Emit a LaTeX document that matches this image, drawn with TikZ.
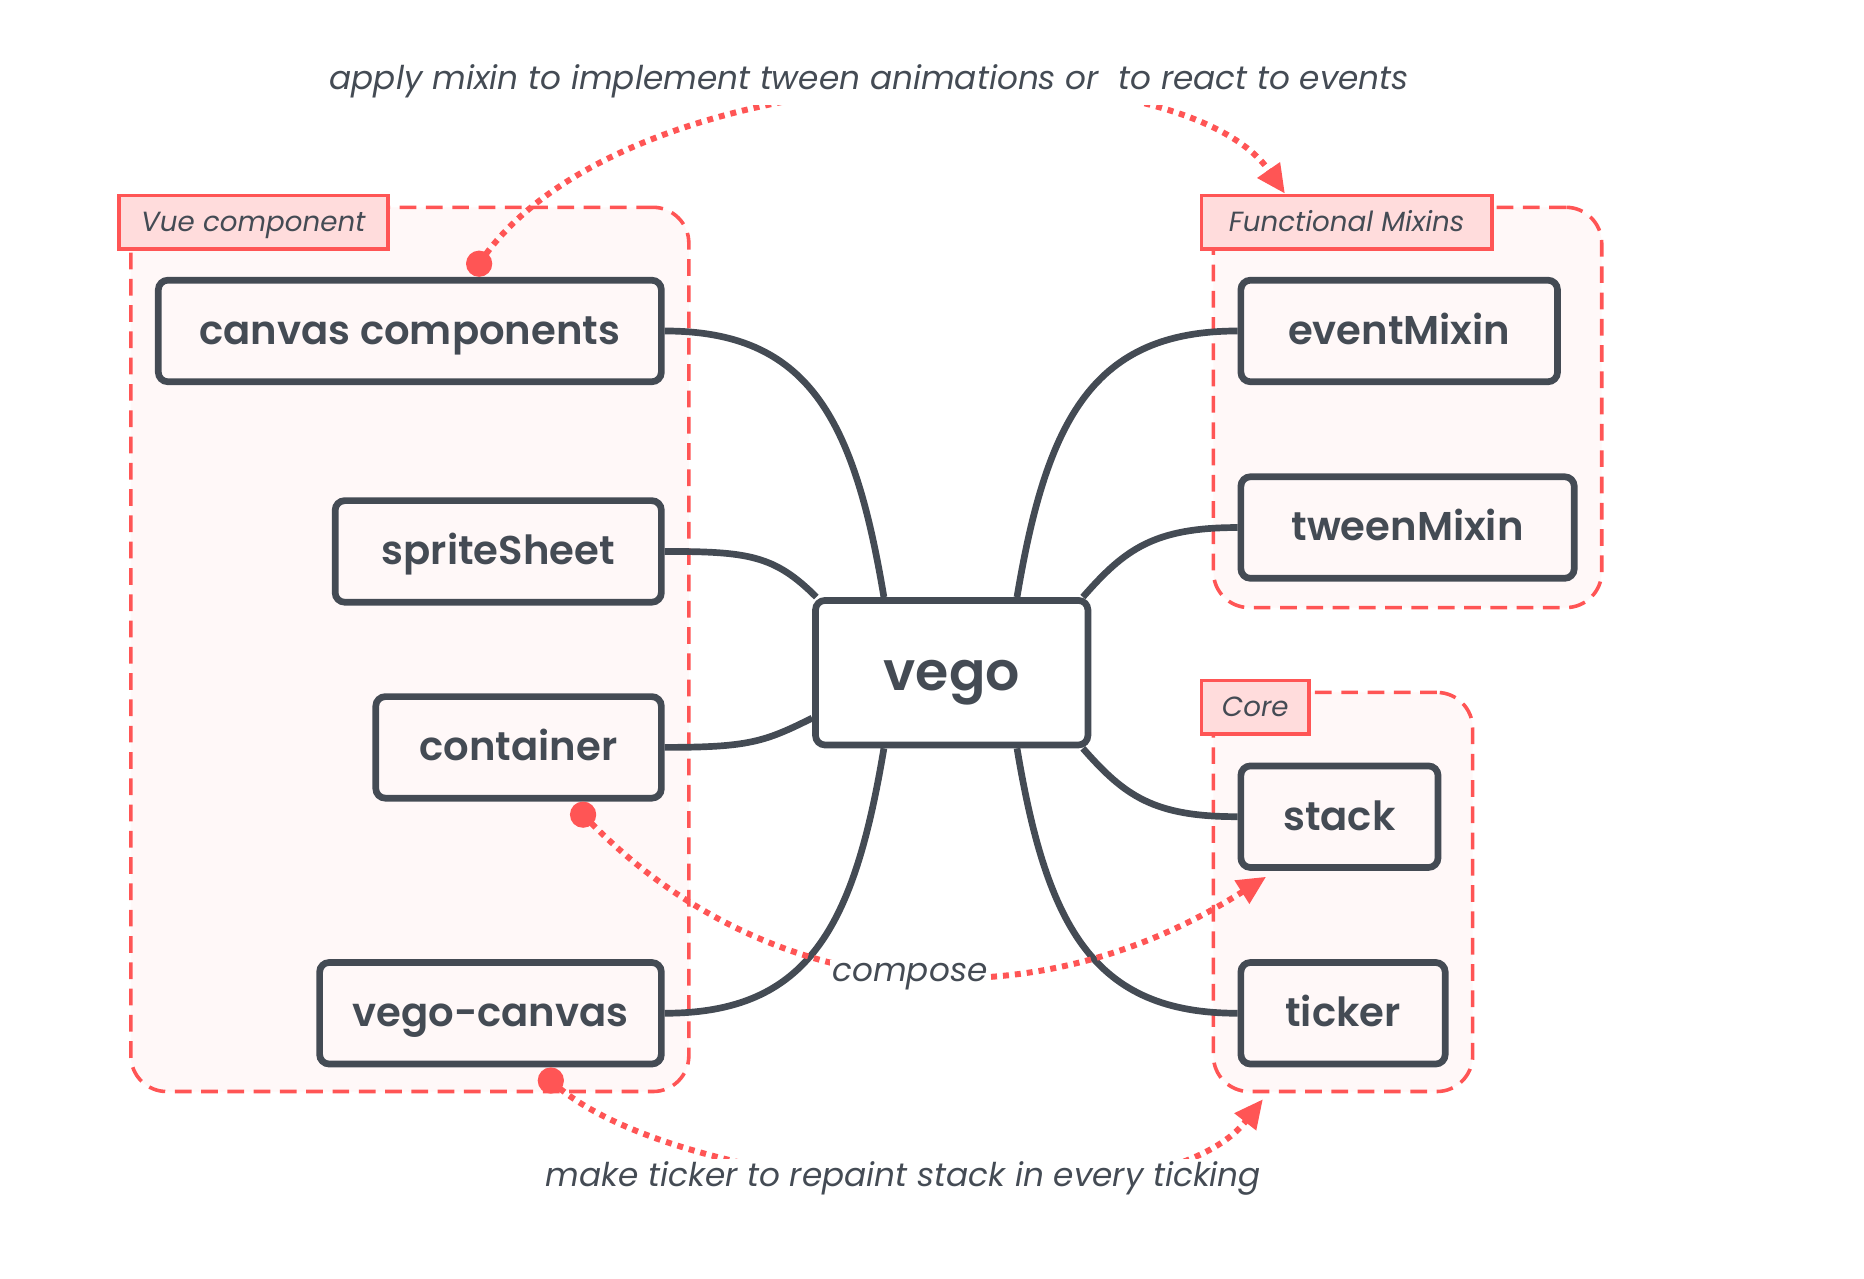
\documentclass[tikz,border=0pt]{standalone}
\usepackage{fontspec}
\IfFontExistsTF{Poppins SemiBold}{\setmainfont{Poppins}[BoldFont={Poppins SemiBold}]}{\setmainfont{Poppins}}
\usetikzlibrary{arrows.meta,calc}

\definecolor{ink}{HTML}{444B54}
\definecolor{redline}{HTML}{FF5555}
\definecolor{tagfill}{HTML}{FFDCDC}
\definecolor{softfill}{HTML}{FFF8F8}

\begin{document}
\begin{tikzpicture}[x=0.5pt, y=-0.5pt,
    piece/.style={draw=ink, line width=2.8pt, fill=softfill, rounded corners=4pt, minimum height=42.5pt, inner sep=0pt, text height=11.2pt, text depth=0pt, text=ink, font=\bfseries\fontsize{16.8}{20}\selectfont},
    pack/.style={draw=redline, line width=1.5pt, dash pattern=on 7pt off 4pt, fill=softfill, rounded corners=15pt, inner sep=0pt},
    packtag/.style={draw=redline, line width=1.5pt, fill=tagfill, inner sep=0pt, minimum height=22.5pt, text height=7.7pt, text depth=0pt, text=ink, font=\itshape\fontsize{11.6}{14}\selectfont},
    wire/.style={draw=ink, line width=2.8pt},
    hintline/.style={draw=redline, line width=2.5pt, dash pattern=on 2.5pt off 2.5pt, -{Triangle[length=12pt,width=11pt]}},
    hinttext/.style={fill=white, inner sep=1pt, text=ink, font=\itshape\fontsize{13.7}{16}\selectfont},
    hintdot/.style={circle, fill=redline, inner sep=0pt, minimum size=11pt}]

\useasboundingbox (0,0) rectangle (1560,1070);

% groups
\node[pack, minimum width=233.5pt, minimum height=370pt] (vuegrp) at (343,543.5) {};
\node[pack, minimum width=162.5pt, minimum height=167.5pt] (mixgrp) at (1178,341) {};
\node[pack, minimum width=108.5pt, minimum height=167pt] (coregrp) at (1124,746.5) {};

\node[packtag, minimum width=112.5pt] (vuetag) at (212,186) {Vue component};
\node[packtag, minimum width=121.5pt] (mixtag) at (1127,186) {Functional Mixins};
\node[packtag, minimum width=45pt] (coretag) at (1050.5,592) {Core};

% boxes
\node[piece, minimum width=210.5pt] (cc) at (343,277) {canvas components};
\node[piece, minimum width=136.5pt] (ss) at (417,461.5) {spriteSheet};
\node[piece, minimum width=119.5pt] (ct) at (434,625.5) {container};
\node[piece, minimum width=143pt] (vc) at (410.5,848) {vego-canvas};

\node[piece, fill=white, minimum width=114pt, minimum height=60.5pt, text height=15pt, font=\bfseries\fontsize{22.5}{26}\selectfont] (vego) at (796.5,563) {vego};

\node[piece, minimum width=132.5pt] (em) at (1171,277) {eventMixin};
\node[piece, minimum width=139.5pt] (tm) at (1178,441.5) {tweenMixin};
\node[piece, minimum width=82.5pt] (sk) at (1121,683.5) {stack};
\node[piece, minimum width=85.5pt] (tk) at (1124,848) {ticker};

% where the wires meet vego
\coordinate (vtl) at ($(vego.north west)!0.257!(vego.north east)$);
\coordinate (vtr) at ($(vego.north west)!0.734!(vego.north east)$);
\coordinate (vbl) at ($(vego.south west)!0.257!(vego.south east)$);
\coordinate (vbr) at ($(vego.south west)!0.734!(vego.south east)$);
\coordinate (vcl) at ($(vego.north west)!0.015!(vego.north east)$);
\coordinate (vcr) at ($(vego.north west)!0.97!(vego.north east)$);
\coordinate (vcb) at ($(vego.south west)!0.97!(vego.south east)$);
\coordinate (vlw) at ($(vego.south west)!0.2!(vego.north west)$);

\draw[wire] (cc.east) .. controls +(120,0) and +(-25,-150) .. (vtl);
\draw[wire] (ss.east) .. controls +(70,0) and +(-35,-35) .. (vcl);
\draw[wire] (ct.east) .. controls +(70,0) and +(-40,20) .. (vlw);
\draw[wire] (vc.east) .. controls +(120,0) and +(-25,150) .. (vbl);
\draw[wire] (em.west) .. controls +(-120,0) and +(25,-150) .. (vtr);
\draw[wire] (tm.west) .. controls +(-70,0) and +(35,-40) .. (vcr);
\draw[wire] (sk.west) .. controls +(-70,0) and +(35,40) .. (vcb);
\draw[wire] (tk.west) .. controls +(-120,0) and +(25,150) .. (vbr);

% red hints
\coordinate (d1) at ($(cc.north)+(58,-11)$);
\coordinate (d2) at ($(ct.south)+(54,11)$);
\coordinate (d3) at ($(vc.south)+(50.5,11)$);
\coordinate (t1) at ($(mixtag.north west)!0.29!(mixtag.north east)$);
\coordinate (t2) at ($($(sk.south west)!0.14!(sk.south east)$)+(0,5)$);
\coordinate (t3) at ($($(coregrp.south west)!0.195!(coregrp.south east)$)+(0,5)$);

\draw[hintline] (d1) .. controls +(120,-180) and +(-90,-130) .. (t1);
\draw[hintline] (d2) .. controls +(150,158) and +(-200,127) .. (t2);
\draw[hintline] (d3) .. controls +(100,96) and +(-90,115) .. (t3);

\node[hinttext, inner ysep=3pt] (apply) at (727.5,68) {apply mixin to implement tween animations or\ \ to react to events};
\node[hinttext] (compose) at (761.5,817) {compose};
\node[hinttext] (repaint) at (756,986) {make ticker to repaint stack in every ticking};

\foreach \d in {d1,d2,d3}
    \node[hintdot] at (\d) {};

\end{tikzpicture}
\end{document}
